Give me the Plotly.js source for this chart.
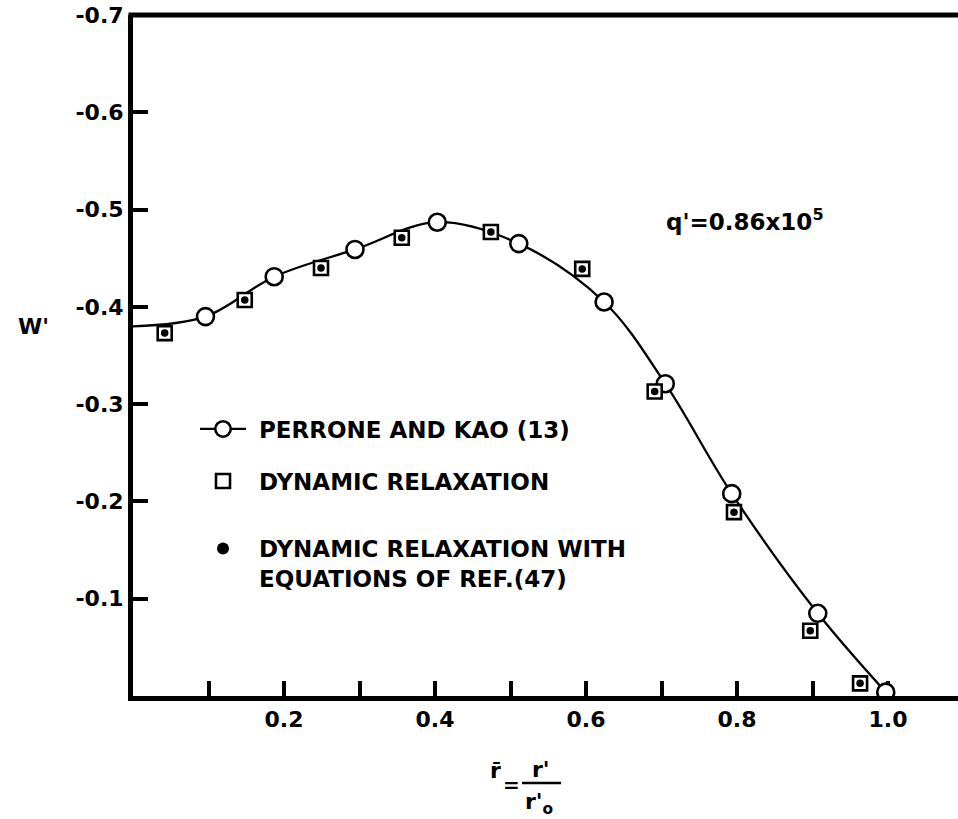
<!DOCTYPE html>
<html>
<head>
<meta charset="utf-8">
<script src="https://cdn.plot.ly/plotly-3.0.1.min.js"></script>
<style>html,body{margin:0;padding:0;background:#fff;}</style>
</head>
<body>
<div id="chart" style="width:958px;height:819px;"></div>
<script>
// Perrone and Kao (13): open circles joined by the smooth curve (curve starts at r = 0)
const kaoR = [0.0, 0.096, 0.187, 0.294, 0.403, 0.511, 0.624, 0.705, 0.793, 0.907, 0.997];
const kaoW = [-0.380, -0.390, -0.431, -0.459, -0.487, -0.465, -0.405, -0.321, -0.208, -0.085, -0.004];
// dynamic relaxation: open squares
const relaxR = [0.042, 0.148, 0.249, 0.356, 0.474, 0.595, 0.691, 0.796, 0.897, 0.963];
const relaxW = [-0.373, -0.407, -0.440, -0.471, -0.477, -0.439, -0.313, -0.189, -0.067, -0.013];
// dynamic relaxation with the equations of ref. (47): dots
const ref47R = [0.042, 0.148, 0.249, 0.356, 0.474, 0.595, 0.691, 0.796, 0.897, 0.963];
const ref47W = [-0.373, -0.407, -0.440, -0.471, -0.477, -0.439, -0.313, -0.189, -0.067, -0.013];

const xTickVals = [0.2, 0.4, 0.6, 0.8, 1.0];
const xTickText = ['0.2', '0.4', '0.6', '0.8', '1.0'];
const xMinorVals = [0.1, 0.3, 0.5, 0.7, 0.9];
const yTickVals = [-0.7, -0.6, -0.5, -0.4, -0.3, -0.2, -0.1];
const yTickText = ['-0.7', '-0.6', '-0.5', '-0.4', '-0.3', '-0.2', '-0.1'];

const W = 958, H = 819;
const M = {l: 133, r: 0, t: 15, b: 123};
const PW = W - M.l - M.r, PH = H - M.t - M.b;
// pixel position -> paper fraction, for the labels placed around the frame
const px = x => (x - M.l) / PW;
const py = y => (H - M.b - y) / PH;

const FONT = 'DejaVu Sans, Liberation Sans, sans-serif';
const NB = '\u00a0';
const bold = size => ({family: FONT, size: size, color: '#000', weight: 'bold'});

const traces = [
  {
    x: kaoR, y: kaoW, type: 'scatter', mode: 'lines+markers',
    name: NB + 'PERRONE AND KAO (13)', legend: 'legend',
    line: {color: '#000', width: 2.3, shape: 'spline', smoothing: 1},
    // the r = 0 point only anchors the curve, so its marker has no size
    marker: {symbol: 'circle', size: kaoR.map((r, i) => i === 0 ? 0 : 17), opacity: 1,
             color: '#fff', line: {color: '#000', width: 2.6}},
    hoverinfo: 'skip'
  },
  {
    x: relaxR, y: relaxW, type: 'scatter', mode: 'markers',
    name: NB + 'DYNAMIC RELAXATION', legend: 'legend2',
    marker: {symbol: 'square', size: 14, color: '#fff', line: {color: '#000', width: 2.6}},
    hoverinfo: 'skip'
  },
  {
    x: ref47R, y: ref47W, type: 'scatter', mode: 'markers',
    name: NB + 'DYNAMIC RELAXATION WITH<br>' + NB + 'EQUATIONS OF REF.(47)', legend: 'legend3',
    marker: {symbol: 'circle', size: 7.5, color: '#000'},
    hoverinfo: 'skip'
  }
];

const axisCommon = {
  showline: true, linewidth: 5, linecolor: '#000',
  ticks: 'inside', ticklen: 15, tickwidth: 4, tickcolor: '#000',
  showgrid: false, zeroline: false, fixedrange: true,
  tickfont: bold(22), tickmode: 'array'
};

const legendCommon = {
  xref: 'paper', yref: 'paper', xanchor: 'left',
  bgcolor: 'rgba(0,0,0,0)', borderwidth: 0,
  font: bold(23), itemwidth: 46, valign: 'top'
};

const layout = {
  width: W, height: H, margin: M,
  paper_bgcolor: '#fff', plot_bgcolor: '#fff',
  xaxis: Object.assign({}, axisCommon, {
    range: [0, PW / 755], tickvals: xTickVals, ticktext: xTickText,
    layer: 'below traces',
    minor: {tickmode: 'array', tickvals: xMinorVals, ticks: 'inside', ticklen: 15,
            tickwidth: 4, tickcolor: '#000', showgrid: false}
  }),
  yaxis: Object.assign({}, axisCommon, {
    range: [0, -0.7], tickvals: yTickVals, ticktext: yTickText,
    layer: 'below traces'
  }),
  showlegend: true,
  legend: Object.assign({}, legendCommon, {x: px(195), y: py(429), yanchor: 'middle', itemsizing: 'trace'}),
  legend2: Object.assign({}, legendCommon, {x: px(195), y: py(481), yanchor: 'middle', itemsizing: 'trace'}),
  legend3: Object.assign({}, legendCommon, {x: px(195), y: py(527), yanchor: 'top', itemsizing: 'constant'}),
  shapes: [
    // top frame line
    {type: 'line', xref: 'paper', yref: 'paper', x0: px(128.5), x1: 1, y0: 1, y1: 1,
     line: {color: '#000', width: 5}},
    // fraction bar of the x-axis label
    {type: 'line', xref: 'paper', yref: 'paper', x0: px(522), x1: px(561), y0: py(783), y1: py(783),
     line: {color: '#000', width: 2.5}}
  ],
  annotations: [
    {text: "W'", x: px(33), y: py(326), xref: 'paper', yref: 'paper', showarrow: false,
     font: bold(22), xanchor: 'center', yanchor: 'middle'},
    {text: "q'=0.86x10<sup>5</sup>", x: px(664), y: py(220), xref: 'paper', yref: 'paper', showarrow: false,
     font: bold(23), xanchor: 'left', yanchor: 'middle'},
    {text: 'r\u0304', x: px(495), y: py(770), xref: 'paper', yref: 'paper', showarrow: false,
     font: bold(22), xanchor: 'center', yanchor: 'middle'},
    {text: '=', x: px(511), y: py(785), xref: 'paper', yref: 'paper', showarrow: false,
     font: bold(20), xanchor: 'center', yanchor: 'middle'},
    {text: "r'", x: px(541), y: py(769), xref: 'paper', yref: 'paper', showarrow: false,
     font: bold(22), xanchor: 'center', yanchor: 'middle'},
    {text: "r'<sub>o</sub>", x: px(539), y: py(803), xref: 'paper', yref: 'paper', showarrow: false,
     font: bold(22), xanchor: 'center', yanchor: 'middle'}
  ]
};

Plotly.newPlot('chart', traces, layout, {displayModeBar: false, staticPlot: true});
</script>
</body>
</html>
